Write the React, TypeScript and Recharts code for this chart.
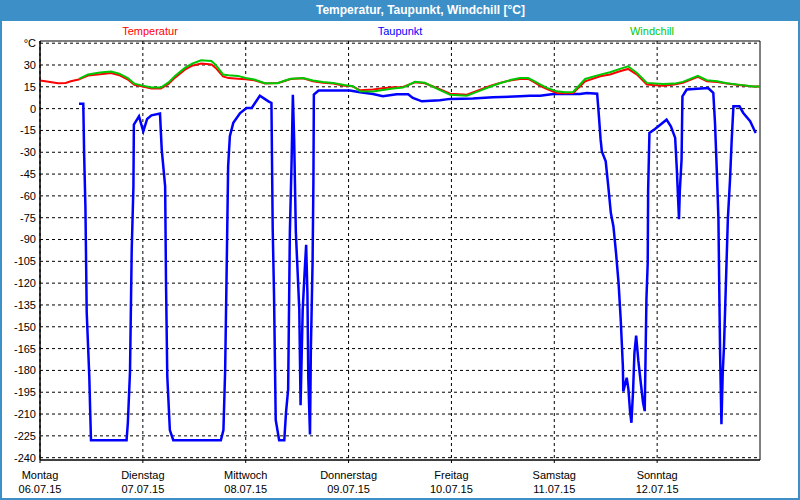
import { LineChart, Line, XAxis, YAxis, CartesianGrid, ReferenceArea } from 'recharts';

// hours since Monday 00:00
const tempHours = [0, 2, 4.2, 6, 7.2, 9, 11.2, 14, 16.6, 18.5, 20.5, 22, 24, 26, 28.2, 30, 31.5, 33.8, 35.5, 37.6, 40, 41, 42.7, 44, 46.2, 48, 50, 52.5, 55.5, 56.5, 58.5, 61.4, 63.7, 66, 68.4, 71, 73, 74.7, 77.7, 80, 82.4, 84.7, 87.5, 89.8, 92.6, 95.7, 99.6, 102.7, 105, 107.3, 110, 112, 113.9, 115, 116.8, 118.3, 120.6, 122.5, 124.4, 127.2, 130.7, 133, 135.3, 137.2, 139.3, 141.6, 145.4, 148, 150, 153.5, 155.6, 158, 160.3, 163, 166.4, 168];
const temperatur = [19.3, 18.5, 17.4, 17.6, 18.8, 20, 22.7, 23.6, 24.5, 23, 20, 16.3, 15.2, 13.8, 13.8, 17, 21.3, 26.8, 29.5, 31, 30.3, 28, 22.2, 21, 20.6, 20.2, 19.5, 17.2, 17.7, 18.5, 20.3, 20.9, 18.8, 17.8, 17.2, 15.8, 15.3, 12.6, 13.1, 14, 14.7, 14.9, 18.1, 17.4, 14.2, 10.3, 9.6, 13.1, 15.6, 17.7, 19.5, 20.4, 20.4, 18.8, 15.5, 13.5, 10.8, 10.5, 10.8, 18.8, 22.2, 23.5, 25.7, 27.3, 23.4, 16.5, 15.8, 16.5, 17.7, 21.8, 18.8, 18.3, 17.2, 16.3, 15.3, 15.3];

// windchill starts with the humidity/wind sensor, around 09:00 on Monday
const windHours = [9.1, 11.2, 14, 16.6, 18.5, 20.5, 22, 24, 26, 28.2, 30, 31.5, 33.8, 35.5, 37.6, 40, 41, 42.7, 44, 46.2, 48, 50, 52.5, 55.5, 56.5, 58.5, 61.4, 63.7, 66, 68.4, 71, 73, 74.7, 77.7, 80, 82.4, 84.7, 87.5, 89.8, 92.6, 95.7, 99.6, 102.7, 105, 107.3, 110, 112, 113.9, 115, 116.8, 118.3, 120.6, 122.5, 124.4, 127.2, 130.7, 133, 135.3, 137.2, 139.3, 141.6, 145.4, 148, 150, 153.5, 155.6, 158, 160.3, 163, 166.4, 168];
const windchill = [20.5, 23.5, 24.8, 25.5, 24, 21, 17.2, 15.8, 14.5, 14.5, 18, 22.5, 28, 31, 33.2, 32.8, 30, 23.5, 23, 22.5, 21, 20, 17.5, 17.5, 18.7, 20.5, 21, 19.4, 18.3, 17.7, 16.3, 15.4, 11.9, 11.7, 12.8, 13.8, 14.5, 18.4, 17.8, 13.8, 9.6, 8.9, 12.4, 15, 17.4, 19.8, 21, 21, 19.4, 16.5, 14.3, 11.9, 11.3, 11.5, 20.4, 23.4, 25, 27.3, 29.1, 24.5, 17.7, 17, 17.2, 18.4, 22.5, 19.5, 18.8, 17.5, 16.5, 15.3, 15.3];

const dewHours = [9.1, 10.1, 10.3, 10.6, 10.9, 11.5, 11.7, 11.9, 20.2, 20.5, 21, 21.4, 21.8, 21.9, 23.1, 24.1, 25, 26, 28, 28.4, 29.2, 29.4, 29.7, 30.3, 31.1, 42.2, 42.8, 43.2, 43.6, 43.9, 44.3, 45.1, 46.7, 48.2, 49.4, 51.3, 53.3, 54, 54.3, 54.6, 54.8, 55, 55.8, 57, 57.4, 57.9, 58.3, 58.7, 59, 59.3, 59.7, 60.5, 60.8, 61.3, 61.7, 62.1, 62.4, 62.6, 63, 63.2, 63.6, 63.8, 63.9, 65, 72.3, 74.7, 77.7, 80, 83.2, 85.9, 87, 89.1, 93.3, 95.7, 101, 105.7, 112, 114.3, 116.7, 119.8, 126, 127.6, 130, 130.3, 130.8, 131.1, 132, 132.6, 133.2, 133.8, 134.4, 135, 135.5, 136, 136.1, 136.9, 137.3, 137.7, 138, 138.4, 138.7, 139.1, 139.6, 140.2, 140.7, 141.1, 141.3, 141.5, 141.8, 141.9, 142.2, 143.5, 146.2, 147.2, 148.2, 148.6, 148.8, 149.1, 149.3, 149.7, 149.9, 150.9, 155.9, 157.1, 157.5, 158, 158.3, 158.5, 158.7, 159, 159.3, 159.6, 160, 160.5, 161, 161.4, 161.8, 163.2, 164.1, 165.7, 167];
const taupunkt = [3.4, 3.4, -31.6, -68, -140, -184, -207, -228, -228, -216, -181, -97, -53.5, -11, -5.3, -15.6, -7.1, -4.6, -3.4, -28, -53.5, -119, -184, -221, -228, -228, -221, -180, -101.6, -39.7, -19, -9.8, -3, 0.5, 0.5, 8.9, 5, 3.9, -83, -127, -170, -214, -228, -228, -209, -193, -85, -37, 9.6, -21, -85, -138, -204, -138, -115, -93.6, -127, -185, -224, -166, -106, -49, 9.6, 12.4, 12.4, 11.2, 10.1, 8.5, 9.9, 9.9, 7.4, 5, 5.7, 6.7, 6.9, 7.8, 8.5, 8.9, 8.9, 10.1, 10.1, 10.8, 10.3, -0.7, -21, -29.4, -36.2, -53.5, -71.8, -81, -99, -120, -145, -177, -194.5, -185, -193, -209, -216, -193, -168, -156, -173, -189, -202, -208, -170, -131, -106, -56, -16.7, -14, -7.6, -12.2, -20, -42, -56, -76, -56, -35, 8.5, 13.1, 14.2, 10.8, -9.8, -49, -76, -124.5, -170, -217, -182, -163.5, -124.5, -76, -49, -21.3, 1.6, 1.6, -3, -8.7, -16.7];

const dayTicks = [0, 24, 48, 72, 96, 120, 144];
const dayNames = ['Montag', 'Dienstag', 'Mittwoch', 'Donnerstag', 'Freitag', 'Samstag', 'Sonntag'];
const dayDates = ['06.07.15', '07.07.15', '08.07.15', '09.07.15', '10.07.15', '11.07.15', '12.07.15'];
const yTicks = [45, 30, 15, 0, -15, -30, -45, -60, -75, -90, -105, -120, -135, -150, -165, -180, -195, -210, -225, -240];

const tempData = tempHours.map((h, i) => ({ h, v: temperatur[i] }));
const windData = windHours.map((h, i) => ({ h, v: windchill[i] }));
const dewData = dewHours.map((h, i) => ({ h, v: taupunkt[i] }));

const FONT = '"Liberation Sans", Arial, sans-serif';
const FRAME = '#3d8fc8';

const DayTick = ({ x, y, payload }: any) => {
  const i = dayTicks.indexOf(payload.value);
  return (
    <text x={x} y={y} textAnchor="middle" fontSize={11} fontFamily={FONT} fill="#000">
      <tspan x={x} dy={14}>{dayNames[i]}</tspan>
      <tspan x={x} dy={14}>{dayDates[i]}</tspan>
    </text>
  );
};

export default function App() {
  return (
    <div style={{ position: 'absolute', left: 0, top: 0, width: 800, height: 500, background: '#fff', border: `2px solid ${FRAME}`, boxSizing: 'border-box', fontFamily: FONT }}>
      <div style={{ position: 'absolute', left: -2, top: -2, width: 800, height: 21, background: FRAME, zIndex: 2 }}>
        <div style={{ position: 'absolute', left: 316, width: 200, top: 3, textAlign: 'center', color: '#fff', fontWeight: 'bold', fontSize: 12, whiteSpace: 'nowrap' }}>
          Temperatur, Taupunkt, Windchill [°C]
        </div>
      </div>
      <div style={{ position: 'absolute', left: -2, top: -2 }}>
        <LineChart width={800} height={500} margin={{ top: 41, right: 40, bottom: 0, left: 0 }}>
          <CartesianGrid stroke="#000" strokeDasharray="3 3" horizontalValues={yTicks} verticalValues={dayTicks} />
          <XAxis
            type="number"
            dataKey="h"
            domain={[0, 168]}
            ticks={dayTicks}
            height={40}
            stroke="#000"
            tickSize={3}
            tickMargin={2}
            tickLine={{ stroke: '#000', strokeDasharray: '3 3' }}
            tick={<DayTick />}
            allowDuplicatedCategory={false}
          />
          <YAxis
            type="number"
            domain={[-241.6, 46.5]}
            ticks={yTicks}
            width={40}
            stroke="#000"
            tickLine={false}
            tickSize={2}
            tickMargin={2}
            interval={0}
            tick={{ fontSize: 11, fill: '#000', fontFamily: FONT }}
            tickFormatter={(v: number) => (v === 45 ? '°C' : String(v))}
          />
          <ReferenceArea x1={0} x2={168} y1={-241.6} y2={46.5} fill="none" stroke="#000" strokeWidth={1} ifOverflow="visible" />
          <Line data={dewData} dataKey="v" type="linear" stroke="#0000ff" strokeWidth={2.5} dot={false} isAnimationActive={false} />
          <Line data={tempData} dataKey="v" type="linear" stroke="#ff0000" strokeWidth={2} dot={false} isAnimationActive={false} />
          <Line data={windData} dataKey="v" type="linear" stroke="#00c800" strokeWidth={2} dot={false} isAnimationActive={false} />
        </LineChart>
      </div>
      <div style={{ position: 'absolute', left: 98, width: 100, top: 23, textAlign: 'center', color: '#ff0000', fontSize: 11 }}>Temperatur</div>
      <div style={{ position: 'absolute', left: 348, width: 100, top: 23, textAlign: 'center', color: '#0000ff', fontSize: 11 }}>Taupunkt</div>
      <div style={{ position: 'absolute', left: 600, width: 100, top: 23, textAlign: 'center', color: '#00c800', fontSize: 11 }}>Windchill</div>
    </div>
  );
}
